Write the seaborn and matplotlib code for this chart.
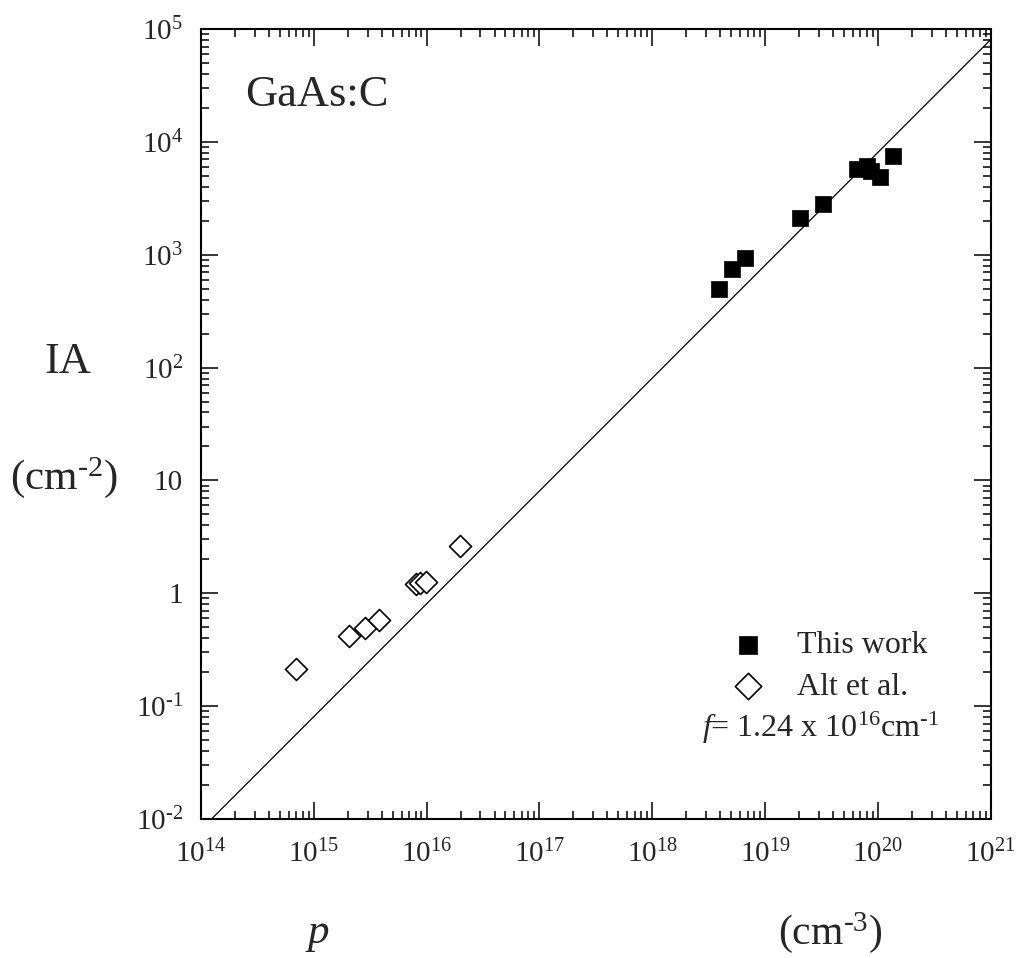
import numpy as np
import pandas as pd
import matplotlib
matplotlib.use("Agg")
import matplotlib.pyplot as plt
from matplotlib.ticker import FixedLocator, LogLocator, NullFormatter, FuncFormatter
import seaborn as sns

# Carbon-doped GaAs: integrated absorption vs hole concentration
this_work_p = [3.9e18, 5.1e18, 6.7e18, 2.02e19, 3.28e19, 6.5e19, 8.07e19, 8.7e19, 1.04e20, 1.35e20]
this_work_ia = [497, 752, 935, 2110, 2790, 5730, 6100, 5500, 4930, 7520]

alt_p = [6.96e14, 2.07e15, 2.87e15, 3.79e15, 8.1e15, 8.7e15, 9.8e15, 1.96e16]
alt_ia = [0.214, 0.419, 0.488, 0.581, 1.21, 1.23, 1.27, 2.64]

# calibration factor: IA = p / f
f_factor = 1.24e16
fit_p = [1.0e14, 1.0e21]

series_labels = ["This work", "Alt et al."]
y_tick_values = [1e-2, 1e-1, 1, 10, 1e2, 1e3, 1e4, 1e5]
y_tick_labels = [r"10$^{\text{-}2}$", r"10$^{\text{-}1}$", "1", "10",
                 "10$^{2}$", "10$^{3}$", "10$^{4}$", "10$^{5}$"]
x_tick_values = [1e14, 1e15, 1e16, 1e17, 1e18, 1e19, 1e20, 1e21]
x_tick_labels = ["10$^{14}$", "10$^{15}$", "10$^{16}$", "10$^{17}$",
                 "10$^{18}$", "10$^{19}$", "10$^{20}$", "10$^{21}$"]

sns.set_theme(style="white")
plt.rcParams["font.family"] = ["Liberation Serif", "DejaVu Serif"]
plt.rcParams["mathtext.fontset"] = "custom"
plt.rcParams["mathtext.rm"] = "Liberation Serif"
plt.rcParams["mathtext.it"] = "Liberation Serif:italic"

df_tw = pd.DataFrame({"p": this_work_p, "IA": this_work_ia})
df_alt = pd.DataFrame({"p": alt_p, "IA": alt_ia})
df_fit = pd.DataFrame({"p": fit_p, "IA": [v / f_factor for v in fit_p]})

fig = plt.figure(figsize=(10.18, 9.58), dpi=100)
ax = fig.add_axes([0.1974, 0.1451, 0.9732 - 0.1974, 0.9697 - 0.1451])
ax.set_xscale("log")
ax.set_yscale("log")

sns.lineplot(data=df_fit, x="p", y="IA", ax=ax, color="black", linewidth=0.9, zorder=1)
sns.scatterplot(data=df_alt, x="p", y="IA", ax=ax, marker="D", s=125,
                facecolor="white", edgecolor="black", linewidth=1.2,
                label=series_labels[1], zorder=3)
sns.scatterplot(data=df_tw, x="p", y="IA", ax=ax, marker="s", s=118,
                color="black", edgecolor="black", linewidth=0.5,
                label=series_labels[0], zorder=4)

ax.set_xlim(1e14, 1e21)
ax.set_ylim(1e-2, 1e5)

ax.xaxis.set_major_locator(FixedLocator(x_tick_values))
ax.yaxis.set_major_locator(FixedLocator(y_tick_values))
ax.xaxis.set_major_formatter(FuncFormatter(
    lambda v, i: x_tick_labels[x_tick_values.index(v)] if v in x_tick_values else ""))
ax.yaxis.set_major_formatter(FuncFormatter(
    lambda v, i: y_tick_labels[y_tick_values.index(v)] if v in y_tick_values else ""))
ax.xaxis.set_minor_locator(LogLocator(base=10, subs=np.arange(2, 10), numticks=20))
ax.yaxis.set_minor_locator(LogLocator(base=10, subs=np.arange(2, 10), numticks=20))
ax.xaxis.set_minor_formatter(NullFormatter())
ax.yaxis.set_minor_formatter(NullFormatter())

ax.tick_params(which="both", direction="in", top=True, right=True, bottom=True, left=True,
               color="black", width=1.1)
ax.tick_params(which="major", length=12, labelsize=21)
ax.tick_params(axis="x", which="major", pad=15)
ax.tick_params(axis="y", which="major", pad=13)
ax.tick_params(which="minor", length=5.5)
for spine in ax.spines.values():
    spine.set_visible(True)
    spine.set_color("black")
    spine.set_linewidth(1.5)

ax.set_xlabel("")
ax.set_ylabel("")

# axis titles
fig.text(317 / 1018, 1 - 935 / 958, "$p$", fontsize=31, ha="center", va="center")
fig.text(830 / 1018, 1 - 933 / 958, r"(cm$^{\text{-}3}$)", fontsize=30, ha="center", va="center")
fig.text(68 / 1018, 1 - 362 / 958, "IA", fontsize=32, ha="center", va="center")
fig.text(64 / 1018, 1 - 478 / 958, r"(cm$^{\text{-}2}$)", fontsize=31, ha="center", va="center")

fig.text(245 / 1018, 1 - 95 / 958, "GaAs:C", fontsize=32, ha="left", va="center")

handles, labels = ax.get_legend_handles_labels()
order = [labels.index(series_labels[0]), labels.index(series_labels[1])]
leg = ax.legend([handles[i] for i in order], [labels[i] for i in order],
                loc="upper left", bbox_to_anchor=(0.636, 0.254), frameon=False,
                fontsize=23, handletextpad=0.55, labelspacing=0.375, borderaxespad=0,
                markerscale=1.2)

fig.text(702 / 1018, 1 - 728 / 958, r"$f$= 1.24 x 10$^{16}$cm$^{\text{-}1}$",
         fontsize=23, ha="left", va="center")

fig.savefig("out.png", dpi=100, facecolor="white")
